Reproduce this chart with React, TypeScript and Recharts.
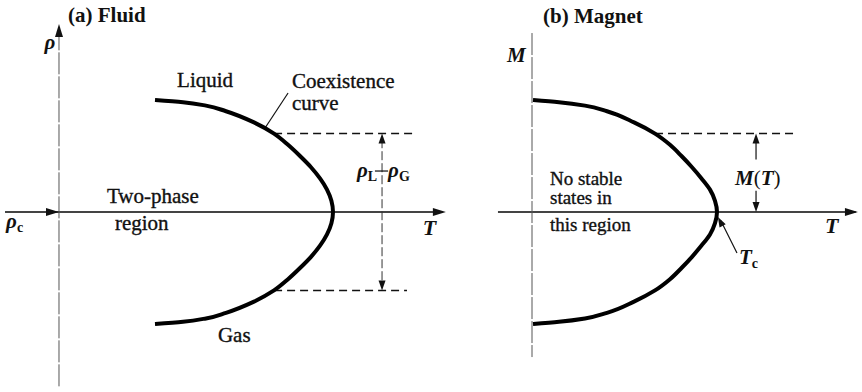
import React from 'react';
import { ComposedChart, Line, Scatter, XAxis, YAxis, ReferenceLine, ReferenceDot } from 'recharts';

// Scaled order parameter (ρ−ρc or M, end of curve = ±1) and the reduced temperature T/Tc read at each level.
// The curves are drawn as T(v) so the spline runs monotone along the vertical axis.
const levels = [1.0, 0.98, 0.95, 0.9, 0.8, 0.7, 0.6, 0.5, 0.4, 0.3, 0.2, 0.1, 0,
  -0.1, -0.2, -0.3, -0.4, -0.5, -0.6, -0.7, -0.8, -0.9, -0.95, -0.98, -1.0];
const fluidT = [0.3504, 0.4526, 0.5365, 0.6095, 0.7117, 0.7847, 0.8358, 0.8796, 0.9197, 0.9526, 0.9781, 0.9942, 1.0,
  0.9942, 0.9781, 0.9526, 0.9197, 0.8796, 0.8358, 0.7847, 0.7117, 0.6095, 0.5365, 0.4526, 0.3504];
const magnetT = [0.0054, 0.1459, 0.2865, 0.4054, 0.5514, 0.6649, 0.7459, 0.8081, 0.8649, 0.9162, 0.9622, 0.9892, 1.0,
  0.9892, 0.9622, 0.9162, 0.8649, 0.8081, 0.7459, 0.6649, 0.5514, 0.4054, 0.2865, 0.1459, 0.0054];

// liquid / gas density levels at the chosen temperature, and M at its temperature
const rhoLiquid = 0.7;
const rhoGas = -0.7;
const gapT = 1.179;
const mLevel = 0.7;
const mT = 1.211;

const fluidCurve = levels.map((v, i) => ({ v, t: fluidT[i] }));
const magnetCurve = levels.map((v, i) => ({ v, t: magnetT[i] }));

// arrowhead tips; dir is the pointing angle in screen degrees
const fluidAxisHeads = [
  { t: 0, v: 1.679, dir: -90 },
  { t: 0, v: 0, dir: 0 },
  { t: 1.412, v: 0, dir: 0 },
];
const fluidGapHeads = [
  { t: gapT, v: rhoLiquid, dir: -90 },
  { t: gapT, v: rhoGas, dir: 90 },
];
const magnetAxisHeads = [{ t: 1.762, v: 0, dir: 0 }];
const magnetSmallHeads = [
  { t: mT, v: mLevel, dir: -90 },
  { t: mT, v: 0, dir: 90 },
  { t: 1.005, v: -0.045, dir: -118 },
];

const serif = '"Liberation Serif", "DejaVu Serif", serif';
const ink = '#111';

const arrowShape = (len: number, half: number) => (p: any) => {
  const a = ((p.payload?.dir ?? p.dir ?? 0) * Math.PI) / 180;
  const c = Math.cos(a);
  const s = Math.sin(a);
  const bx = p.cx - len * c;
  const by = p.cy - len * s;
  const pts = `${p.cx},${p.cy} ${bx - half * s},${by + half * c} ${bx + half * s},${by - half * c}`;
  return <polygon points={pts} fill={ink} />;
};

const note = (key: string, t: number, v: number, node: React.ReactNode) => (
  <ReferenceDot
    key={key}
    x={t}
    y={v}
    r={0}
    ifOverflow="visible"
    shape={(p: any) => <g transform={`translate(${p.cx},${p.cy})`}>{node}</g>}
  />
);

const Word = ({ children, anchor = 'start', size = 21, bold = false, italic = false }: any) => (
  <text
    x={0}
    y={0}
    textAnchor={anchor}
    fontFamily={serif}
    fontSize={size}
    fontWeight={bold ? 'bold' : 'normal'}
    fontStyle={italic ? 'italic' : 'normal'}
    fill={ink}
    stroke={ink}
    strokeWidth={bold ? 0 : 0.35}
  >
    {children}
  </text>
);

const Sub = ({ children }: any) => (
  <tspan fontSize={14} fontStyle="normal" fontWeight="bold" dy={4}>{children}</tspan>
);

const seg = (key: string, a: [number, number], b: [number, number], style: any) => (
  <ReferenceLine
    key={key}
    segment={[{ x: a[0], y: a[1] }, { x: b[0], y: b[1] }]}
    ifOverflow="visible"
    {...style}
  />
);

const axisLine = { stroke: '#444', strokeWidth: 1.8 };
const thinAxis = { stroke: '#555', strokeWidth: 1, strokeDasharray: '22 2' };
const dashed = { stroke: ink, strokeWidth: 1.5, strokeDasharray: '8 5' };
const gapLine = { stroke: '#333', strokeWidth: 1, strokeDasharray: '9 3' };
const solidThin = { stroke: ink, strokeWidth: 1.2 };

const FluidPanel = () => (
  <ComposedChart layout="vertical" width={480} height={392} margin={{ top: 0, right: 0, bottom: 0, left: 0 }}>
    <XAxis type="number" dataKey="t" domain={[-0.2153, 1.5365]} allowDataOverflow hide />
    <YAxis type="number" dataKey="v" domain={[-1.607, 1.893]} allowDataOverflow reversed hide />
    {seg('taxis', [-0.197, 0], [1.4, 0], axisLine)}
    {seg('rhoaxis', [0, 1.64], [0, -1.571], thinAxis)}
    {seg('liq', [0.785, rhoLiquid], [1.296, rhoLiquid], dashed)}
    {seg('gas', [0.785, rhoGas], [1.27, rhoGas], dashed)}
    {seg('gap', [gapT, rhoLiquid - 0.05], [gapT, rhoGas + 0.05], gapLine)}
    {seg('minus', [1.153, 0.366], [1.201, 0.366], solidThin)}
    {seg('leader', [0.752, 0.75], [0.836, 1.0625], solidThin)}
    <Line data={fluidCurve} dataKey="t" type="monotone" stroke="#000" strokeWidth={4} dot={false}
      activeDot={false} isAnimationActive={false} />
    <Scatter data={fluidAxisHeads} shape={arrowShape(13, 4)} isAnimationActive={false} />
    <Scatter data={fluidGapHeads} shape={arrowShape(10, 3.5)} isAnimationActive={false} />
    {note('title', 0.0328, 1.696, <Word bold>(a) Fluid</Word>)}
    {note('rho', -0.033, 1.455, <Word anchor="middle" italic bold>ρ</Word>)}
    {note('rhoc', -0.193, -0.143, <Word italic bold>ρ<Sub>c</Sub></Word>)}
    {note('liquid', 0.431, 1.116, <Word>Liquid</Word>)}
    {note('coex1', 0.85, 1.107, <Word>Coexistence</Word>)}
    {note('coex2', 0.85, 0.911, <Word>curve</Word>)}
    {note('two1', 0.175, 0.08, <Word>Two-phase</Word>)}
    {note('two2', 0.204, -0.161, <Word>region</Word>)}
    {note('gaslbl', 0.58, -1.161, <Word>Gas</Word>)}
    {note('tlbl', 1.328, -0.205, <Word italic bold size={22}>T</Word>)}
    {note('rl', 1.161, 0.3125, <Word anchor="end" italic bold>ρ<Sub>L</Sub></Word>)}
    {note('rg', 1.201, 0.3125, <Word italic bold>ρ<Sub>G</Sub></Word>)}
  </ComposedChart>
);

const MagnetPanel = () => (
  <ComposedChart layout="vertical" width={382} height={392} margin={{ top: 0, right: 0, bottom: 0, left: 0 }}>
    <XAxis type="number" dataKey="t" domain={[-0.2811, 1.7838]} allowDataOverflow hide />
    <YAxis type="number" dataKey="v" domain={[-1.607, 1.893]} allowDataOverflow reversed hide />
    {seg('taxis', [-0.184, 0], [1.75, 0], axisLine)}
    {seg('maxis', [0, 1.598], [0, -1.295], thinAxis)}
    {seg('mlevel', [0.665, mLevel], [1.432, mLevel], dashed)}
    {seg('mup', [mT, mLevel - 0.05], [mT, 0.47], solidThin)}
    {seg('mdown', [mT, 0.19], [mT, 0.05], solidThin)}
    {seg('tc', [1.02, -0.075], [1.108, -0.366], solidThin)}
    <Line data={magnetCurve} dataKey="t" type="monotone" stroke="#000" strokeWidth={4} dot={false}
      activeDot={false} isAnimationActive={false} />
    <Scatter data={magnetAxisHeads} shape={arrowShape(13, 4)} isAnimationActive={false} />
    <Scatter data={magnetSmallHeads} shape={arrowShape(10, 3.5)} isAnimationActive={false} />
    {note('title', 0.0595, 1.6875, <Word bold>(b) Magnet</Word>)}
    {note('m', -0.135, 1.339, <Word italic bold>M</Word>)}
    {note('ns1', 0.0973, 0.24, <Word size={19}>No stable</Word>)}
    {note('ns2', 0.0973, 0.0714, <Word size={19}>states in</Word>)}
    {note('ns3', 0.0973, -0.17, <Word size={19}>this region</Word>)}
    {note('mt', 1.097, 0.241, <Word italic bold>M<tspan fontStyle="normal" fontWeight="normal">(</tspan>T<tspan fontStyle="normal" fontWeight="normal">)</tspan></Word>)}
    {note('tlbl', 1.584, -0.1875, <Word italic bold size={22}>T</Word>)}
    {note('tclbl', 1.119, -0.464, <Word italic bold>T<Sub>c</Sub></Word>)}
  </ComposedChart>
);

export default function App() {
  return (
    <div style={{ position: 'fixed', left: 0, top: 0, width: 862, height: 392, background: '#fff', display: 'flex' }}>
      <FluidPanel />
      <MagnetPanel />
    </div>
  );
}
